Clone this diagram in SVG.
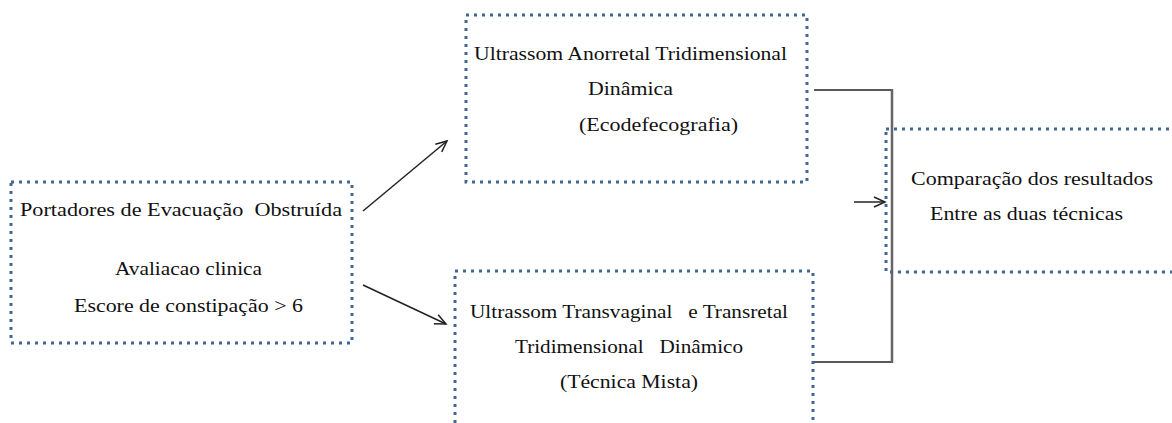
<svg xmlns="http://www.w3.org/2000/svg" width="1172" height="423" viewBox="0 0 1172 423">
<style>
.box{fill:none;stroke:#416796;stroke-width:3;stroke-dasharray:3 5}
.t{font-family:"Liberation Serif","Times New Roman",serif;font-size:18px;fill:#111;white-space:pre}
.c{fill:none;stroke:#222;stroke-width:1.5}
.v{fill:none;stroke:#666;stroke-width:2.5}
</style>
<defs>
<marker id="ah" markerWidth="14" markerHeight="12" refX="12" refY="6" orient="auto" markerUnits="userSpaceOnUse">
<path d="M1,1 L12,6 L1,11" fill="none" stroke="#222" stroke-width="1.5"/>
</marker>
</defs>
<g id="connectors">
<line class="c" x1="363" y1="211" x2="447" y2="141" marker-end="url(#ah)"/>
<line class="c" x1="363" y1="285" x2="446" y2="324" marker-end="url(#ah)"/>
<polyline class="c" points="814,90 892,90"/>
<polyline class="c" points="812,362 892,362"/>
<line class="v" x1="892" y1="89" x2="892" y2="363"/>
<line class="c" x1="854" y1="202" x2="885" y2="202" marker-end="url(#ah)"/>
</g>
<g id="node-portadores">
<rect class="box" x="11" y="182" width="341" height="161"/>
<text class="t" x="20" y="216" textLength="322" lengthAdjust="spacingAndGlyphs" xml:space="preserve">Portadores de Evacuação  Obstruída</text>
<text class="t" x="115" y="275" textLength="147" lengthAdjust="spacingAndGlyphs">Avaliacao clinica</text>
<text class="t" x="74" y="312" textLength="229" lengthAdjust="spacingAndGlyphs">Escore de constipação &gt; 6</text>
</g>
<g id="node-ecodefecografia">
<rect class="box" x="466" y="15" width="341" height="167"/>
<text class="t" x="474" y="60" textLength="313" lengthAdjust="spacingAndGlyphs">Ultrassom Anorretal Tridimensional</text>
<text class="t" x="588" y="95" textLength="85" lengthAdjust="spacingAndGlyphs">Dinâmica</text>
<text class="t" x="579" y="131" textLength="159" lengthAdjust="spacingAndGlyphs">(Ecodefecografia)</text>
</g>
<g id="node-mista">
<rect class="box" x="455" y="271" width="358" height="170"/>
<text class="t" x="470" y="318" textLength="318" lengthAdjust="spacingAndGlyphs" xml:space="preserve">Ultrassom Transvaginal   e Transretal</text>
<text class="t" x="515" y="353" textLength="228" lengthAdjust="spacingAndGlyphs" xml:space="preserve">Tridimensional   Dinâmico</text>
<text class="t" x="560" y="388" textLength="138" lengthAdjust="spacingAndGlyphs">(Técnica Mista)</text>
</g>
<g id="node-comparacao">
<rect class="box" x="886" y="129" width="300" height="143"/>
<text class="t" x="911" y="185" textLength="242" lengthAdjust="spacingAndGlyphs">Comparação dos resultados</text>
<text class="t" x="930" y="220" textLength="193" lengthAdjust="spacingAndGlyphs">Entre as duas técnicas</text>
</g>
</svg>
